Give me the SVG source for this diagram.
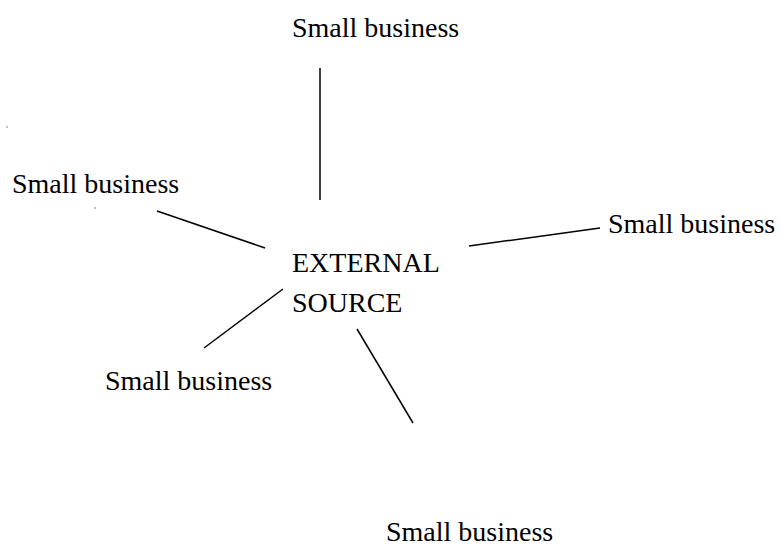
<svg xmlns="http://www.w3.org/2000/svg" width="781" height="549" viewBox="0 0 781 549">
<style>
text{font-family:"Liberation Serif","Times New Roman",serif;font-size:28px;fill:#000}
.c line{stroke:#000;stroke-width:1.5}
</style>
<rect width="781" height="549" fill="#fff"/>
<g class="c" id="connectors">
<line x1="320" y1="68" x2="320" y2="200"/>
<line x1="157" y1="211" x2="265" y2="248"/>
<line x1="469" y1="246" x2="600" y2="228"/>
<line x1="283" y1="289" x2="204" y2="348"/>
<line x1="357" y1="329" x2="413" y2="423"/>
</g>
<g id="center"><text x="292" y="272">EXTERNAL</text><text x="292" y="312">SOURCE</text></g>
<g id="top"><text x="292" y="37">Small business</text></g>
<g id="left"><text x="12" y="193">Small business</text></g>
<g id="right"><text x="608" y="233">Small business</text></g>
<g id="lowerleft"><text x="105" y="390">Small business</text></g>
<g id="bottom"><text x="386" y="541">Small business</text></g>
<rect x="6.5" y="126.5" width="1" height="1" fill="#000"/>
<rect x="94.5" y="207.5" width="1" height="1" fill="#000"/>
</svg>
